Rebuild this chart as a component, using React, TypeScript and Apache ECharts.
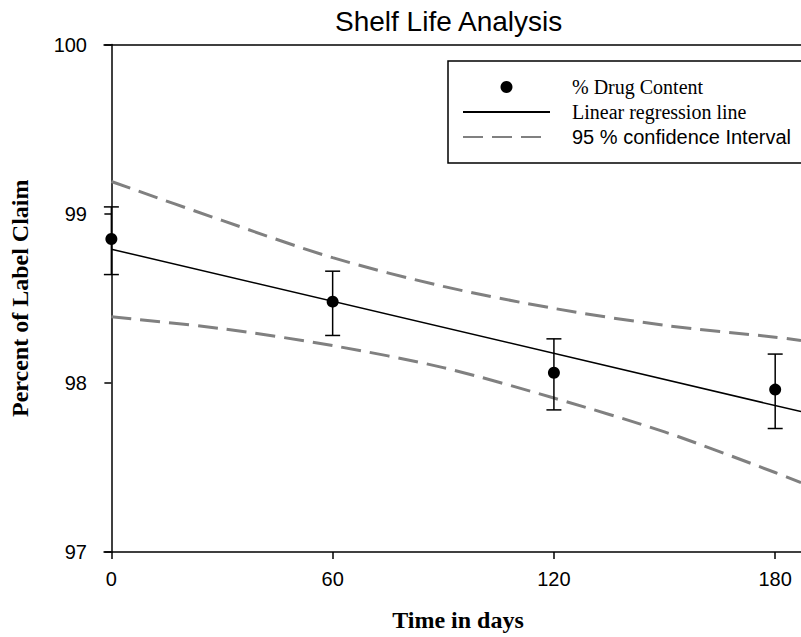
import React, { useEffect, useRef } from "react";
import * as echarts from "echarts";

const days = [0, 60, 120, 180];
const drugContent = [98.85, 98.48, 98.06, 97.96];
const errLow = [98.64, 98.28, 97.84, 97.73];
const errHigh = [99.04, 98.66, 98.26, 98.17];
const regDays = [0, 187];
const regValues = [98.79, 97.83];
const ciDays = [0, 30, 60, 90, 120, 150, 180, 187];
const ciUpper = [99.19, 98.96, 98.74, 98.57, 98.44, 98.34, 98.27, 98.25];
const ciLower = [98.39, 98.32, 98.22, 98.09, 97.91, 97.71, 97.47, 97.41];
const xTicks = [0, 60, 120, 180];

const SERIF = "Liberation Serif, Times New Roman, serif";
const SANS = "Liberation Sans, Arial, sans-serif";

export default function App() {
  const ref = useRef<HTMLDivElement>(null);
  useEffect(() => {
    if (!ref.current) return;
    const chart = echarts.init(ref.current, null, { renderer: "svg" });
    const legendText = { fontFamily: SERIF, fontSize: 20, color: "#000", padding: [0, 0, 0, 17] };
    const option: any = {
      animation: false,
      backgroundColor: "#fff",
      title: {
        text: "Shelf Life Analysis",
        left: 335,
        top: 7,
        padding: 0,
        textStyle: { fontFamily: SANS, fontSize: 28, fontWeight: "normal", color: "#000" },
      },
      legend: {
        left: 448,
        top: 61,
        orient: "vertical",
        padding: [16, 80, 16, 14],
        itemWidth: 87,
        itemHeight: 12,
        itemGap: 5,
        borderColor: "#000",
        borderWidth: 1.5,
        textStyle: legendText,
        data: [
          { name: "% Drug Content", icon: "circle", itemStyle: { color: "#000", opacity: 1 } },
          { name: "Linear regression line", itemStyle: { opacity: 0 } },
          {
            name: "95 % confidence Interval",
            itemStyle: { opacity: 0 },
            textStyle: { ...legendText, fontFamily: SANS },
          },
        ],
      },
      grid: { left: 103, right: 0, top: 44.5, bottom: 82, containLabel: false },
      xAxis: [
        {
          type: "value",
          min: -2,
          max: 187,
          position: "bottom",
          name: "Time in days",
          nameLocation: "middle",
          nameGap: 56,
          nameTextStyle: { fontFamily: SERIF, fontSize: 24, fontWeight: "bold", color: "#000", padding: [0, 0, 0, 11] },
          axisLine: { show: true, lineStyle: { color: "#000", width: 1.5 } },
          axisTick: { show: true, length: 7, lineStyle: { color: "#000", width: 1.5 }, customValues: xTicks },
          axisLabel: { fontFamily: SANS, fontSize: 20, color: "#000", margin: 17, customValues: xTicks },
          splitLine: { show: false },
        },
        {
          type: "value",
          min: -2,
          max: 187,
          position: "top",
          axisLine: { show: true, lineStyle: { color: "#000", width: 1.5 } },
          axisTick: { show: false },
          axisLabel: { show: false },
          splitLine: { show: false },
        },
      ],
      yAxis: {
        type: "value",
        min: 97,
        max: 100,
        interval: 1,
        name: "Percent of Label Claim",
        nameLocation: "middle",
        nameGap: 72,
        nameTextStyle: { fontFamily: SERIF, fontSize: 24, fontWeight: "bold", color: "#000" },
        axisLine: { show: true, lineStyle: { color: "#000", width: 1.5 } },
        axisTick: { show: true, length: 7, lineStyle: { color: "#000", width: 1.5 } },
        axisLabel: { fontFamily: SANS, fontSize: 20, color: "#000", margin: 17 },
        splitLine: { show: false },
      },
      series: [
        {
          name: "95 % confidence Interval",
          type: "line",
          data: ciDays.map((d, i) => [d, ciUpper[i]]),
          symbol: "none",
          smooth: 0.3,
          lineStyle: { color: "#808080", width: 3, type: [20, 9] },
          itemStyle: { color: "#808080" },
          z: 2,
        },
        {
          name: "95 % confidence Interval",
          type: "line",
          data: ciDays.map((d, i) => [d, ciLower[i]]),
          symbol: "none",
          smooth: 0.3,
          lineStyle: { color: "#808080", width: 3, type: [20, 9] },
          itemStyle: { color: "#808080" },
          z: 2,
        },
        {
          name: "Linear regression line",
          type: "line",
          data: regDays.map((d, i) => [d, regValues[i]]),
          symbol: "none",
          lineStyle: { color: "#000", width: 1.5 },
          itemStyle: { color: "#000" },
          z: 3,
        },
        {
          name: "Error bars",
          type: "custom",
          data: days.map((d, i) => [d, errLow[i], errHigh[i]]),
          encode: { x: 0, y: [1, 2] },
          renderItem: (params: any, api: any) => {
            const x = api.value(0);
            const lo = api.coord([x, api.value(1)]);
            const hi = api.coord([x, api.value(2)]);
            const half = 7.5;
            const st = { stroke: "#000", lineWidth: 1.5 };
            return {
              type: "group",
              children: [
                { type: "line", shape: { x1: lo[0], y1: lo[1], x2: hi[0], y2: hi[1] }, style: st },
                { type: "line", shape: { x1: hi[0] - half, y1: hi[1], x2: hi[0] + half, y2: hi[1] }, style: st },
                { type: "line", shape: { x1: lo[0] - half, y1: lo[1], x2: lo[0] + half, y2: lo[1] }, style: st },
              ],
            };
          },
          z: 4,
        },
        {
          name: "% Drug Content",
          type: "scatter",
          data: days.map((d, i) => [d, drugContent[i]]),
          symbol: "circle",
          symbolSize: 12,
          itemStyle: { color: "#000", opacity: 1 },
          z: 5,
        },
      ],
    };
    chart.setOption(option);
    return () => chart.dispose();
  }, []);
  return (
    <div
      ref={ref}
      style={{ position: "absolute", left: 0, top: 0, width: 801, height: 637 }}
    />
  );
}
